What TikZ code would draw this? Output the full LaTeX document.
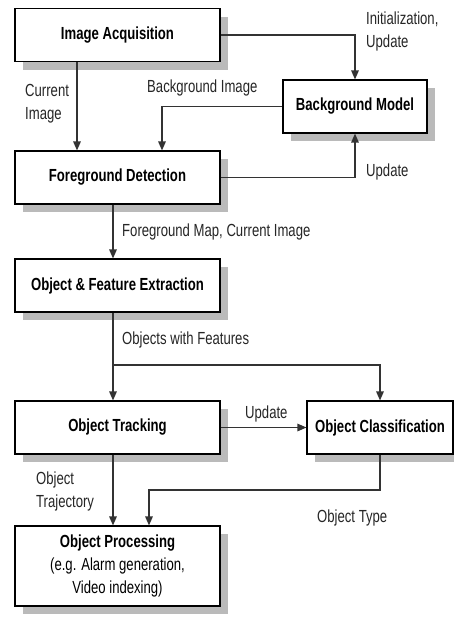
\documentclass[tikz,border=0pt]{standalone}
\usepackage{fontspec}
\setmainfont{Liberation Sans}[FakeStretch=0.75]
\usetikzlibrary{arrows.meta,calc}
\begin{document}
\begin{tikzpicture}[x=1pt,y=-1pt,
  box/.style={draw=black,line width=1.1pt,fill=white,minimum height=53pt,inner sep=0pt,
     font=\fontsize{17.5}{23}\selectfont\bfseries,align=center,
     preaction={fill=black!27,transform canvas={shift={(8pt,-8pt)}}}},
  arr/.style={draw=black!80,line width=1.3pt,-{Triangle[length=9pt,width=7.5pt]}},
  lbl/.style={font=\fontsize{17.5}{23}\selectfont,inner sep=0pt,anchor=west,align=left,text=black!85}]
\useasboundingbox (0,0) rectangle (454,624);
\fill[white] (0,0) rectangle (454,624);
% boxes
\node[box,minimum width=205pt] (IA) at (117.5,35) {Image Acquisition};
\node[box,minimum width=144pt] (BM) at (355,106.5) {Background Model};
\node[box,minimum width=205pt] (FD) at (117.5,177.5) {Foreground Detection};
\node[box,minimum width=205pt] (OFE) at (117.5,285.5) {Object \& Feature Extraction};
\node[box,minimum width=205pt] (OT) at (117.5,427.5) {Object Tracking};
\node[box,minimum width=146pt] (OC) at (380,427.5) {Object Classification};
\node[box,minimum width=205pt,minimum height=80pt] (OP) at (117.5,566) {Object Processing\\\mdseries(e.g. Alarm generation,\\\mdseries Video indexing)};
% columns
\coordinate (c1) at (77,0);
\coordinate (c2) at (162,0);
\coordinate (c3) at (113,0);
\coordinate (j1) at (113,365);
\coordinate (j2) at (149,490);
% connectors
\draw[arr] (IA.south -| c1) -- (FD.north -| c1);
\draw[arr] (IA.east) -| (BM.north);
\draw[arr] (BM.west) -| (FD.north -| c2);
\draw[arr] (FD.east) -| (BM.south);
\draw[arr] (FD.south -| c3) -- (OFE.north -| c3);
\draw[arr] (OFE.south -| c3) -- (OT.north -| c3);
\draw[arr] (j1) -| (OC.north);
\draw[arr] (OT.east) -- (OC.west);
\draw[arr] (OT.south -| c3) -- (OP.north -| c3);
\draw[arr] (OC.south) |- (j2) -- (OP.north -| j2);
% labels
\node[lbl] (l1) at (366,31) {Initialization,\\Update};
\node[lbl] (l2) at (25,103.5) {Current\\Image};
\node[lbl] (l3) at (147,88) {Background Image};
\node[lbl] (l4) at (366,172) {Update};
\node[lbl] (l5) at (122,232) {Foreground Map, Current Image};
\node[lbl] (l6) at (122,340) {Objects with Features};
\node[lbl] (l7) at (245,414) {Update};
\node[lbl] (l8) at (36,491.5) {Object\\Trajectory};
\node[lbl] (l9) at (317,518) {Object Type};
\end{tikzpicture}
\end{document}
